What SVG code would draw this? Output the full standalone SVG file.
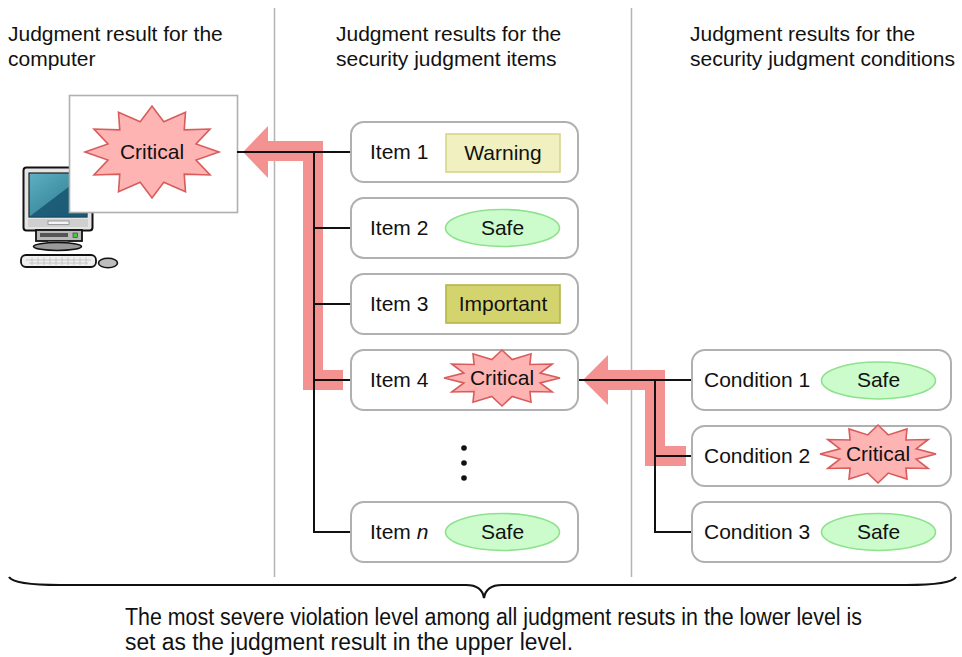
<svg xmlns="http://www.w3.org/2000/svg" xmlns:xlink="http://www.w3.org/1999/xlink" width="962" height="657" viewBox="0 0 962 657">
  <style>
    text { font-family: "Liberation Sans", Arial, sans-serif; font-size: 21px; fill: #111; }
    .mid { text-anchor: middle; }
    .note { font-size: 23px; }
    .divider { stroke: #b4b4b4; stroke-width: 1.5; fill: none; }
    .card { fill: #fff; stroke: #b0b0b0; stroke-width: 2; }
    .wire { stroke: #111; stroke-width: 2; fill: none; }
    .flow { stroke: #f49292; stroke-width: 20; fill: none; stroke-linejoin: miter; }
    .flowhead { fill: #f49292; }
    .burst { fill: #ffb4b4; stroke: #d95c5c; stroke-width: 1.6; vector-effect: non-scaling-stroke; }
    .safe { fill: #ccfccc; stroke: #8ee28e; stroke-width: 1.6; }
    .warning { fill: #f0f0c0; stroke: #d6d68e; stroke-width: 1.6; }
    .important { fill: #d4d46e; stroke: #b4b44a; stroke-width: 1.6; }
    .brace { stroke: #111; stroke-width: 2.2; fill: none; }
  </style>
  <defs>
    <!-- 12-point starburst, unit radius; scaled per use -->
    <path id="burst" class="burst" d="M1,0 L0.657,0.176 L0.866,0.5 L0.481,0.481 L0.5,0.866 L0.176,0.657 L0,1 L-0.176,0.657 L-0.5,0.866 L-0.481,0.481 L-0.866,0.5 L-0.657,0.176 L-1,0 L-0.657,-0.176 L-0.866,-0.5 L-0.481,-0.481 L-0.5,-0.866 L-0.176,-0.657 L0,-1 L0.176,-0.657 L0.5,-0.866 L0.481,-0.481 L0.866,-0.5 L0.657,-0.176 Z"/>
    <linearGradient id="screen" x1="0" y1="0" x2="1" y2="1">
      <stop offset="0" stop-color="#5fb0c0"/>
      <stop offset="1" stop-color="#24728b"/>
    </linearGradient>
  </defs>

  <!-- column dividers -->
  <line class="divider" x1="274.5" y1="8" x2="274.5" y2="577"/>
  <line class="divider" x1="631.5" y1="8" x2="631.5" y2="577"/>

  <!-- column headings -->
  <g id="headings">
    <text x="8" y="41">Judgment result for the</text>
    <text x="8" y="66">computer</text>
    <text x="336" y="41">Judgment results for the</text>
    <text x="336" y="66">security judgment items</text>
    <text x="690" y="41">Judgment results for the</text>
    <text x="690" y="66">security judgment conditions</text>
  </g>

  <!-- computer icon -->
  <g id="computer">
    <rect x="23.5" y="167.5" width="69" height="63" rx="3" fill="#e4e4e4" stroke="#111" stroke-width="2"/>
    <rect x="29" y="173" width="58" height="44" fill="url(#screen)" stroke="#222" stroke-width="1.2"/>
    <polygon points="87,173 87,217 29,217" fill="#175570" opacity="0.85"/>
    <rect x="28" y="219" width="60" height="8" fill="#cfcfcf"/>
    <rect x="48" y="221" width="21" height="3.5" fill="#f4f4f4" stroke="#8a8a8a" stroke-width="0.8"/>
    <rect x="36" y="230" width="46" height="11" fill="#b9b9b9" stroke="#111" stroke-width="1.8"/>
    <rect x="40" y="233" width="28" height="4" fill="#555"/>
    <rect x="73" y="233" width="4.5" height="4.5" fill="#46c846" stroke="#333" stroke-width="0.6"/>
    <rect x="48" y="241" width="20" height="4" fill="#666"/>
    <ellipse cx="57.5" cy="246.5" rx="24" ry="4" fill="#9a9a9a" stroke="#111" stroke-width="1.6"/>
    <rect x="21" y="255" width="75" height="12" rx="5" fill="#efefef" stroke="#111" stroke-width="1.8"/>
    <path d="M26,260 H91 M29,263 H88 M32,257.5 V265 M38,257.5 V265 M44,257.5 V265 M50,257.5 V265 M56,257.5 V265 M62,257.5 V265 M68,257.5 V265 M74,257.5 V265 M80,257.5 V265 M86,257.5 V265" stroke="#bdbdbd" stroke-width="0.8"/>
    <ellipse cx="108" cy="263" rx="9.5" ry="4.8" fill="#bdbdbd" stroke="#111" stroke-width="1.6"/>
  </g>

  <!-- computer result -->
  <g id="computer-result">
    <rect x="69.5" y="95.5" width="168" height="117" fill="#fff" stroke="#b0b0b0" stroke-width="1.6"/>
    <use xlink:href="#burst" transform="translate(152,152) scale(67,46)"/>
    <text class="mid" x="152" y="159">Critical</text>
  </g>

  <!-- propagation arrows and connectors -->
  <g id="connectors">
    <polyline class="flow" points="343,380 313,380 313,151 267,151"/>
    <polygon class="flowhead" points="268,126 243,152 268,178"/>
    <polyline class="flow" points="686,456 655,456 655,380 607,380"/>
    <polygon class="flowhead" points="608,355 583,380 608,405"/>

    <line class="wire" x1="237" y1="152" x2="351" y2="152"/>
    <line class="wire" x1="314" y1="152" x2="314" y2="533"/>
    <line class="wire" x1="313" y1="228" x2="351" y2="228"/>
    <line class="wire" x1="313" y1="304" x2="351" y2="304"/>
    <line class="wire" x1="313" y1="380" x2="351" y2="380"/>
    <line class="wire" x1="313" y1="532" x2="351" y2="532"/>

    <line class="wire" x1="578" y1="380" x2="692" y2="380"/>
    <line class="wire" x1="655" y1="380" x2="655" y2="533"/>
    <line class="wire" x1="654" y1="456" x2="692" y2="456"/>
    <line class="wire" x1="654" y1="532" x2="692" y2="532"/>
  </g>

  <!-- security judgment items -->
  <g id="item-1">
    <rect class="card" x="351" y="122" width="227" height="60" rx="13"/>
    <text x="370" y="159">Item 1</text>
    <rect class="warning" x="446" y="134" width="114" height="38"/>
    <text class="mid" x="503" y="160">Warning</text>
  </g>
  <g id="item-2">
    <rect class="card" x="351" y="198" width="227" height="60" rx="13"/>
    <text x="370" y="235">Item 2</text>
    <ellipse class="safe" cx="502.5" cy="228" rx="57" ry="18.5"/>
    <text class="mid" x="502.5" y="235">Safe</text>
  </g>
  <g id="item-3">
    <rect class="card" x="351" y="274" width="227" height="60" rx="13"/>
    <text x="370" y="311">Item 3</text>
    <rect class="important" x="446" y="285" width="114" height="38"/>
    <text class="mid" x="503" y="311">Important</text>
  </g>
  <g id="item-4">
    <rect class="card" x="351" y="350" width="227" height="60" rx="13"/>
    <text x="370" y="387">Item 4</text>
    <use xlink:href="#burst" transform="translate(502,378) scale(58,28)"/>
    <text class="mid" x="502" y="385">Critical</text>
  </g>
  <g id="ellipsis">
    <circle cx="464" cy="448" r="2.8" fill="#111"/>
    <circle cx="464" cy="463" r="2.8" fill="#111"/>
    <circle cx="464" cy="478" r="2.8" fill="#111"/>
  </g>
  <g id="item-n">
    <rect class="card" x="351" y="502" width="227" height="60" rx="13"/>
    <text x="370" y="539">Item <tspan font-style="italic">n</tspan></text>
    <ellipse class="safe" cx="502.5" cy="532" rx="57" ry="18.5"/>
    <text class="mid" x="502.5" y="539">Safe</text>
  </g>

  <!-- security judgment conditions -->
  <g id="condition-1">
    <rect class="card" x="692" y="350" width="259" height="60" rx="13"/>
    <text x="704" y="387">Condition 1</text>
    <ellipse class="safe" cx="878.5" cy="380.5" rx="57" ry="18.5"/>
    <text class="mid" x="878.5" y="387">Safe</text>
  </g>
  <g id="condition-2">
    <rect class="card" x="692" y="426" width="259" height="60" rx="13"/>
    <text x="704" y="463">Condition 2</text>
    <use xlink:href="#burst" transform="translate(878,454) scale(58,29)"/>
    <text class="mid" x="878" y="461">Critical</text>
  </g>
  <g id="condition-3">
    <rect class="card" x="692" y="502" width="259" height="60" rx="13"/>
    <text x="704" y="539">Condition 3</text>
    <ellipse class="safe" cx="878.5" cy="532" rx="57" ry="18.5"/>
    <text class="mid" x="878.5" y="539">Safe</text>
  </g>

  <!-- brace and note -->
  <path class="brace" d="M9,577 Q14,585 60,585 L466,585 Q482,585 484,598 Q486,585 502,585 L906,585 Q951,585 956,577"/>
  <g id="note">
    <text class="note" x="125" y="625" textLength="737" lengthAdjust="spacingAndGlyphs">The most severe violation level among all judgment resuts in the lower level is</text>
    <text class="note" x="125" y="650" textLength="448" lengthAdjust="spacingAndGlyphs">set as the judgment result in the upper level.</text>
  </g>
</svg>
